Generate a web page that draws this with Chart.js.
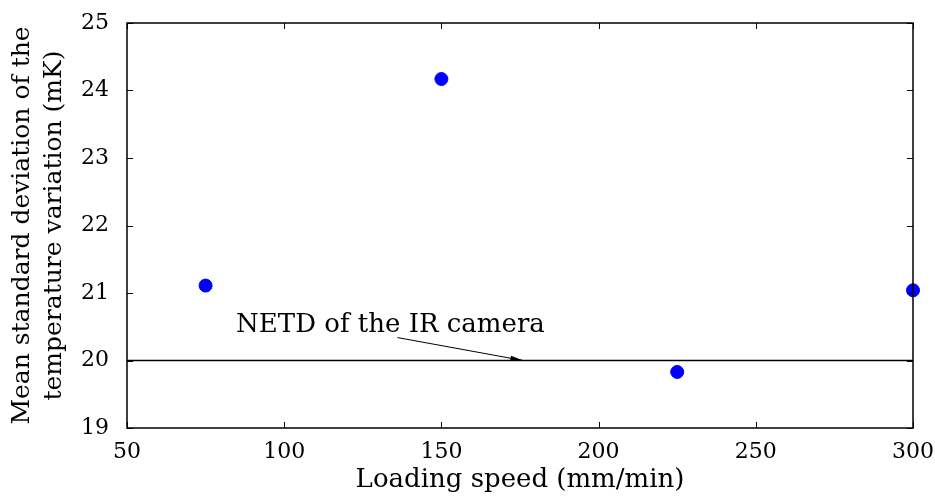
<!DOCTYPE html>
<html>
<head>
<meta charset="utf-8">
<script src="https://cdn.jsdelivr.net/npm/chart.js@4.4.0/dist/chart.umd.min.js"></script>
<style>
  html, body { margin: 0; padding: 0; background: #fff; }
  #wrap { width: 935px; height: 496px; }
</style>
</head>
<body>
<div id="wrap"><canvas id="chart" width="935" height="496"></canvas></div>
<script>
// data
const speeds = [75, 150, 225, 300];
const stdDev = [21.11, 24.17, 19.83, 21.04];
const netdLevel = 20;
const netdLabel = 'NETD of the IR camera';
const xTicks = [50, 100, 150, 200, 250, 300];
const yTicks = [19, 20, 21, 22, 23, 24, 25];

const serif = '"DejaVu Serif", "Liberation Serif", serif';

// inside ticks on all four sides + the NETD arrow
const framePlugin = {
    id: 'frame',
    afterDatasetsDraw(chart) {
        const ctx = chart.ctx;
        const a = chart.chartArea;
        const xs = chart.scales.x, ys = chart.scales.y;
        ctx.save();
        ctx.strokeStyle = '#000';
        ctx.lineWidth = 1;
        ctx.beginPath();
        xTicks.forEach(v => {
            const px = Math.round(xs.getPixelForValue(v)) + 0.5;
            ctx.moveTo(px, a.bottom); ctx.lineTo(px, a.bottom - 6);
            ctx.moveTo(px, a.top); ctx.lineTo(px, a.top + 6);
        });
        yTicks.forEach(v => {
            const py = Math.round(ys.getPixelForValue(v)) + 0.5;
            ctx.moveTo(a.left, py); ctx.lineTo(a.left + 6, py);
            ctx.moveTo(a.right, py); ctx.lineTo(a.right - 6, py);
        });
        ctx.stroke();
        ctx.lineWidth = 1.5;
        ctx.strokeRect(a.left, a.top, a.right - a.left, a.bottom - a.top);

        // annotation
        ctx.fillStyle = '#000';
        ctx.font = '26px ' + serif;
        ctx.textBaseline = 'alphabetic';
        ctx.textAlign = 'left';
        ctx.fillText(netdLabel, xs.getPixelForValue(84.7), ys.getPixelForValue(20.42));
        const x0 = xs.getPixelForValue(136), y0 = ys.getPixelForValue(20.34);
        const x1 = xs.getPixelForValue(176), y1 = ys.getPixelForValue(netdLevel);
        ctx.lineWidth = 1;
        ctx.beginPath();
        ctx.moveTo(x0, y0); ctx.lineTo(x1, y1);
        ctx.stroke();
        const ang = Math.atan2(y1 - y0, x1 - x0);
        ctx.beginPath();
        ctx.moveTo(x1, y1);
        ctx.lineTo(x1 - 13 * Math.cos(ang - 0.2), y1 - 13 * Math.sin(ang - 0.2));
        ctx.lineTo(x1 - 13 * Math.cos(ang + 0.2), y1 - 13 * Math.sin(ang + 0.2));
        ctx.closePath();
        ctx.fill();
        ctx.restore();
    }
};

new Chart(document.getElementById('chart'), {
    type: 'scatter',
    data: {
        datasets: [
            {
                label: 'NETD',
                type: 'line',
                data: [{x: 50, y: netdLevel}, {x: 300, y: netdLevel}],
                borderColor: '#000',
                borderWidth: 1.5,
                pointRadius: 0,
                order: 2
            },
            {
                label: 'Mean std dev',
                data: speeds.map((s, i) => ({x: s, y: stdDev[i]})),
                backgroundColor: '#0000ff',
                borderColor: '#0000ff',
                pointRadius: 6.5,
                pointHoverRadius: 6.5,
                clip: false,
                order: 1
            }
        ]
    },
    options: {
        responsive: false,
        animation: false,
        events: [],
        layout: { padding: { top: 23, right: 22, left: 0, bottom: 0 } },
        plugins: { legend: { display: false }, tooltip: { enabled: false } },
        scales: {
            x: {
                type: 'linear',
                min: 50, max: 300,
                afterBuildTicks: s => { s.ticks = xTicks.map(v => ({value: v})); },
                afterFit: s => { s.height = 68; s.paddingLeft = 0; s.paddingRight = 0; },
                grid: { display: false },
                border: { display: false },
                ticks: { color: '#000', font: { family: serif, size: 22 }, padding: 3, maxRotation: 0 },
                title: { display: true, text: 'Loading speed (mm/min)', color: '#000',
                         font: { family: serif, size: 26 }, padding: { top: 0, bottom: 0 } }
            },
            y: {
                type: 'linear',
                min: 19, max: 25,
                afterBuildTicks: s => { s.ticks = yTicks.map(v => ({value: v})); },
                afterFit: s => { s.width = 127; s.paddingTop = 0; s.paddingBottom = 0; },
                grid: { display: false },
                border: { display: false },
                ticks: { color: '#000', font: { family: serif, size: 22 }, padding: 10 },
                title: { display: true, text: ['Mean standard deviation of the', 'temperature variation (mK)'],
                         color: '#000', font: { family: serif, size: 25, lineHeight: 1.3 }, padding: { top: 6, bottom: 0 } }
            }
        }
    },
    plugins: [framePlugin]
});
</script>
</body>
</html>
